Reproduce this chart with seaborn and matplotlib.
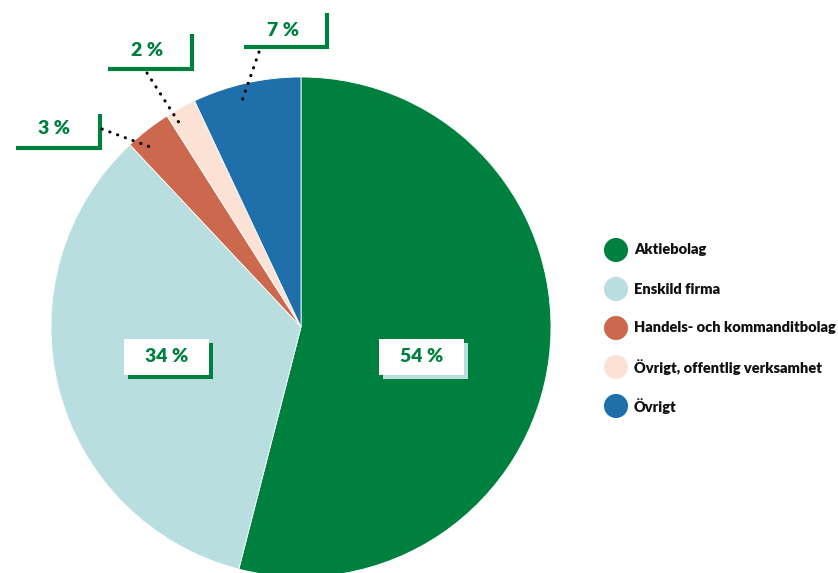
import matplotlib
matplotlib.use("Agg")
import matplotlib.pyplot as plt
import seaborn as sns
import numpy as np
from matplotlib.patches import Rectangle

categories = ["Aktiebolag", "Enskild firma", "Handels- och kommanditbolag",
              "Övrigt, offentlig verksamhet", "Övrigt"]
values = [54, 34, 3, 2, 7]
labels = ["54 %", "34 %", "3 %", "2 %", "7 %"]
colors = ["#00803F", "#B8DEDF", "#CB684D", "#FCE2D5", "#1F70AA"]

sns.set_theme(style="white")
plt.rcParams["font.family"] = ["Lato", "DejaVu Sans"]
GREEN = "#00803F"

W, H = 838, 573
fig = plt.figure(figsize=(W / 100, H / 100), dpi=100)
ax = fig.add_axes([0, 0, 1, 1])

def Y(py):
    return H - py

cx, cy, R = 301, 327, 250
wedges, _ = ax.pie(values, colors=sns.color_palette(colors), startangle=90,
                   counterclock=False, center=(cx, Y(cy)), radius=R,
                   wedgeprops=dict(linewidth=0.6, edgecolor="white"))
ax.set_xlim(0, W)
ax.set_ylim(0, H)
ax.set_aspect("auto")
ax.axis("off")

# inner boxed labels
def boxed(x0, y0, w, h, text, shadow):
    ax.add_patch(Rectangle((x0 + 4, Y(y0 + h + 4)), w, h, facecolor=shadow,
                           edgecolor="none", zorder=5))
    ax.add_patch(Rectangle((x0, Y(y0 + h)), w, h, facecolor="white",
                           edgecolor="none", zorder=6))
    ax.text(x0 + w / 2, Y(y0 + h / 2), text, ha="center", va="center",
            fontsize=14, fontweight="heavy", color=GREEN, zorder=7)

boxed(379, 339, 85, 36, labels[0], colors[1])
boxed(124, 339, 85, 36, labels[1], colors[0])

# outer bracket labels with dotted leaders
mids = []
cum = 0
for v in values:
    mids.append(90 - 360 * (cum + v / 2) / sum(values))
    cum += v

outer = {
    2: dict(tx=54, ty=129, hx0=16, hx1=101, hy=148, vtop=114, lead=(102, 129)),
    3: dict(tx=147, ty=50, hx0=108, hx1=193, hy=69, vtop=34, lead=(147, 73)),
    4: dict(tx=283, ty=30, hx0=244, hx1=328, hy=47, vtop=13, lead=(259, 52)),
}
for i, o in outer.items():
    ax.text(o["tx"], Y(o["ty"]), labels[i], ha="center", va="center",
            fontsize=14, fontweight="heavy", color=GREEN, zorder=7)
    ax.plot([o["hx0"], o["hx1"]], [Y(o["hy"]), Y(o["hy"])], color=GREEN,
            lw=3, solid_capstyle="butt", zorder=7)
    ax.plot([o["hx1"] - 1.5, o["hx1"] - 1.5], [Y(o["hy"] + 1.5), Y(o["vtop"])],
            color=GREEN, lw=3, solid_capstyle="butt", zorder=7)
    ang = np.deg2rad(mids[i] + 2)
    ex = cx + 0.935 * R * np.cos(ang)
    ey = Y(cy) + 0.935 * R * np.sin(ang)
    ax.plot([o["lead"][0], ex], [Y(o["lead"][1]), ey], color="black", lw=2.2,
            dashes=(0.1, 2.6), dash_capstyle="round", zorder=7)

# legend
for k, (cat, col) in enumerate(zip(categories, colors)):
    yy = 250 + k * 39
    ax.scatter([616], [Y(yy)], s=300, color=col, edgecolors="none", zorder=7)
    ax.text(634, Y(yy), cat, ha="left", va="center", fontsize=10.5,
            fontweight="heavy", color="#111111", zorder=7)

fig.savefig("out.png", dpi=100)
